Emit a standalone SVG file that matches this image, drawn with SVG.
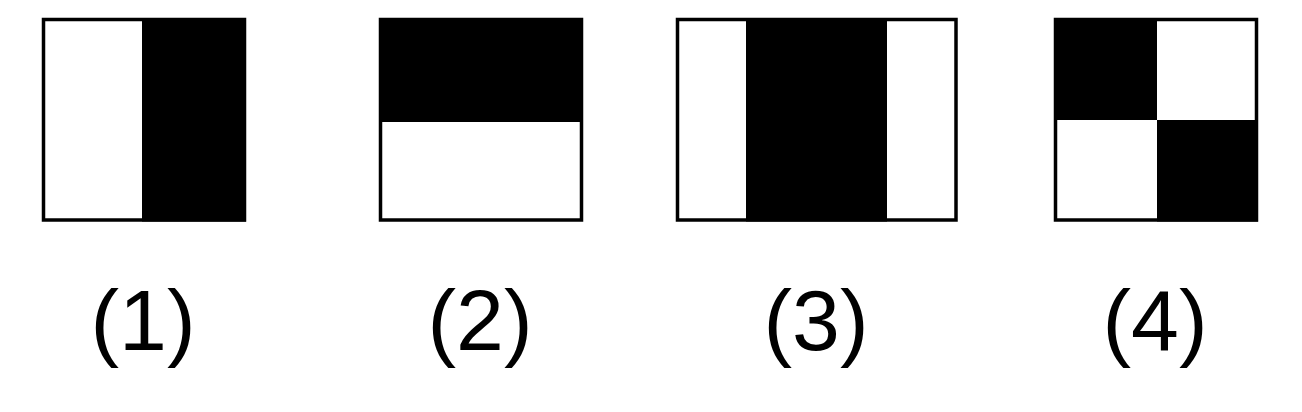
<svg xmlns="http://www.w3.org/2000/svg" width="1302" height="412" viewBox="0 0 1302 412">
<style>
.frame{fill:none;stroke:#000;stroke-width:3.5}
.bg{fill:#fff}
.blk{fill:#000}
.lbl{font-family:"Liberation Sans",Arial,sans-serif;font-size:86px;fill:#000;text-anchor:middle}
</style>
<rect width="1302" height="412" fill="#fff"/>
<g id="feature1">
<rect class="bg" x="43.5" y="19.5" width="201" height="200.5"/>
<rect class="blk" x="142" y="18" width="104" height="203.5"/>
<rect class="frame" x="43.5" y="19.5" width="201" height="200.5"/>
<text class="lbl" x="143" y="350">(1)</text>
</g>
<g id="feature2">
<rect class="bg" x="380.5" y="19.5" width="201" height="200.5"/>
<rect class="blk" x="379" y="18" width="204" height="104"/>
<rect class="frame" x="380.5" y="19.5" width="201" height="200.5"/>
<text class="lbl" x="480" y="350">(2)</text>
</g>
<g id="feature3">
<rect class="bg" x="677.5" y="19.5" width="278.5" height="200.5"/>
<rect class="blk" x="746" y="18" width="141" height="203.5"/>
<rect class="frame" x="677.5" y="19.5" width="278.5" height="200.5"/>
<text class="lbl" x="816" y="350">(3)</text>
</g>
<g id="feature4">
<rect class="bg" x="1055.5" y="19.5" width="201" height="200.5"/>
<rect class="blk" x="1054" y="18" width="103" height="102"/>
<rect class="blk" x="1157" y="120" width="101" height="101.5"/>
<rect class="frame" x="1055.5" y="19.5" width="201" height="200.5"/>
<text class="lbl" x="1155" y="350">(4)</text>
</g>
<g id="connectors"></g>
</svg>
